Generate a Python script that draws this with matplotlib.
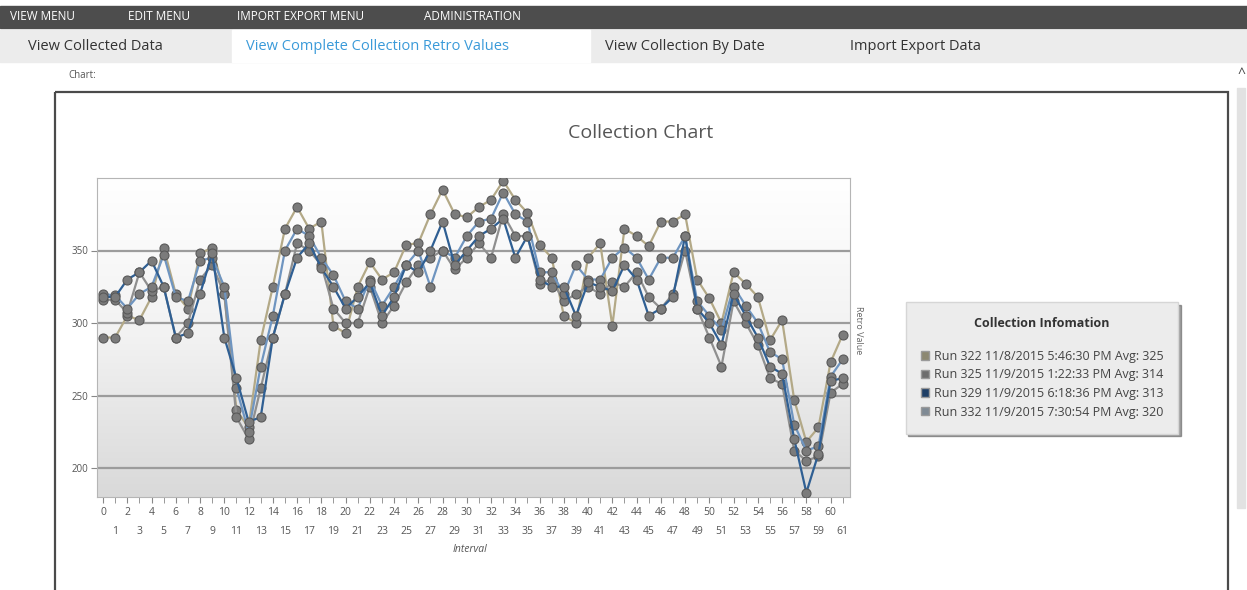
import numpy as np
import matplotlib.pyplot as plt
from matplotlib.patches import Rectangle, Patch
from matplotlib.colors import LinearSegmentedColormap

plt.rcParams['font.family'] = ['Open Sans', 'DejaVu Sans']

# values (approximate)
interval = list(range(62))
run_322 = [290, 290, 305, 302, 318, 352, 320, 310, 348, 352, 320, 240, 228, 288, 325, 365,
           380, 365, 370, 298, 293, 325, 342, 330, 335, 354, 355, 375, 392, 375, 373, 380,
           385, 398, 385, 376, 354, 345, 305, 300, 345, 355, 298, 365, 360, 353, 370, 370,
           375, 330, 317, 300, 335, 327, 318, 288, 302, 247, 218, 228, 273, 292]
run_325 = [316, 316, 307, 335, 322, 325, 290, 300, 330, 340, 320, 235, 220, 255, 290, 320,
           355, 350, 340, 310, 300, 300, 325, 300, 312, 328, 340, 345, 350, 337, 345, 355,
           345, 375, 360, 360, 327, 330, 315, 320, 325, 320, 328, 325, 335, 318, 310, 320,
           350, 310, 290, 270, 315, 300, 285, 262, 258, 212, 205, 208, 252, 258]
run_329 = [318, 318, 330, 335, 343, 325, 290, 293, 320, 348, 290, 262, 232, 235, 290, 320,
           345, 355, 338, 325, 310, 318, 328, 305, 318, 340, 335, 350, 370, 340, 350, 360,
           365, 372, 345, 360, 330, 325, 325, 305, 328, 325, 322, 340, 330, 305, 310, 318,
           360, 310, 300, 285, 320, 305, 290, 270, 265, 220, 183, 210, 260, 262]
run_332 = [320, 319, 310, 320, 325, 347, 318, 315, 343, 345, 325, 255, 225, 270, 305, 350,
           365, 360, 345, 333, 315, 310, 330, 312, 325, 340, 350, 325, 350, 345, 360, 370,
           372, 390, 375, 370, 335, 335, 320, 340, 330, 330, 345, 352, 345, 330, 345, 345,
           360, 315, 305, 295, 325, 312, 300, 280, 275, 230, 212, 215, 263, 275]
series_labels = ['Run 322 11/8/2015 5:46:30 PM Avg: 325',
                 'Run 325 11/9/2015 1:22:33 PM Avg: 314',
                 'Run 329 11/9/2015 6:18:36 PM Avg: 313',
                 'Run 332 11/9/2015 7:30:54 PM Avg: 320']
y_ticks = [200, 250, 300, 350]

line_colors = ['#b3a987', '#8f8f8f', '#2f5f93', '#6f95c0']
legend_colors = ['#8c8872', '#6e6e6e', '#1f3f66', '#7f8a94']

W, H = 1247, 590
fig = plt.figure(figsize=(W / 100, H / 100), dpi=100)

# page chrome drawn in pixel coords
bg = fig.add_axes([0, 0, 1, 1])
bg.set_xlim(0, W)
bg.set_ylim(H, 0)
bg.axis('off')
bg.add_patch(Rectangle((0, 6), W, 22, color='#4d4d4d'))
for x, t in zip([10, 128, 237, 424], ['VIEW MENU', 'EDIT MENU', 'IMPORT EXPORT MENU', 'ADMINISTRATION']):
    bg.text(x, 17, t, color='white', fontsize=8.5, va='center', ha='left')
bg.add_patch(Rectangle((0, 30), W, 32, color='#ececec'))
bg.add_patch(Rectangle((232, 30), 358, 32, color='white'))
tabs = [(28, 'View Collected Data', '#333333'),
        (246, 'View Complete Collection Retro Values', '#3a9ad9'),
        (605, 'View Collection By Date', '#333333'),
        (850, 'Import Export Data', '#333333')]
for x, t, c in tabs:
    bg.text(x, 47, t, color=c, fontsize=10.5, va='center', ha='left')
bg.text(68, 76, 'Chart:', color='#555555', fontsize=7, va='center')
bg.text(1241, 75, '^', color='#444444', fontsize=10, va='center', ha='center')
bg.add_patch(Rectangle((1237, 88), 8, 420, color='#e2e2e2'))
bg.add_patch(Rectangle((55, 92), 1173, 520, fill=False, edgecolor='#4a4a4a', lw=1.6))
bg.text(641, 133, 'Collection Chart', color='#555555', fontsize=14, ha='center', va='center')
bg.text(470, 550, 'Interval', color='#555555', fontsize=7.5, style='italic', ha='center', va='center')
bg.text(859, 330, 'Retro Value', color='#666666', fontsize=6.5, rotation=-90, ha='center', va='center')

# plot area
ax = fig.add_axes([97 / W, 1 - 497 / H, (850 - 97) / W, (497 - 178) / H])
cm = LinearSegmentedColormap.from_list('bgfade', ['#ffffff', '#f2f2f2', '#d9d9d9'])
grad = np.linspace(0, 1, 256).reshape(-1, 1)
ax.imshow(grad, extent=[0, 1, 0, 1], transform=ax.transAxes, aspect='auto', cmap=cm, zorder=0)

for vals, c in zip([run_322, run_325, run_332, run_329], [line_colors[0], line_colors[1], line_colors[3], line_colors[2]]):
    ax.plot(interval, vals, color=c, lw=1.6, marker='o', ms=6.5,
            markerfacecolor='#7b7b7b', markeredgecolor='#595959', markeredgewidth=0.8, zorder=3)

ax.set_xlim(-0.5, 61.6)
ax.set_ylim(180, 400)
ax.set_yticks(y_ticks)
ax.set_yticklabels([str(v) for v in y_ticks], fontsize=7, color='#555555')
ax.yaxis.grid(True, color='#9c9c9c', lw=1.6, zorder=1)
ax.set_axisbelow(True)

evens = interval[0::2]
odds = interval[1::2]
ax.set_xticks(evens)
ax.set_xticklabels([str(i) for i in evens], fontsize=7.5, color='#555555')
ax.set_xticks(odds, minor=True)
ax.set_xticklabels([str(i) for i in odds], minor=True, fontsize=7.5, color='#555555')
ax.tick_params(axis='x', which='major', length=4, color='#888888', pad=3)
ax.tick_params(axis='x', which='minor', length=4, color='#888888', pad=17)
ax.tick_params(axis='y', length=4, color='#888888', pad=2)
for s in ax.spines.values():
    s.set_color('#b5b5b5')

handles = [Patch(facecolor=c, edgecolor='#9a9a9a') for c in legend_colors]
leg = fig.legend(handles, series_labels, loc='center', bbox_to_anchor=(1042 / W, 1 - 368 / H),
                 fontsize=9, title='Collection Infomation', title_fontproperties={'weight': 'bold', 'size': 9},
                 frameon=True, fancybox=False, shadow=True, borderpad=1.2, labelspacing=0.45,
                 handlelength=0.65, handleheight=0.65, handletextpad=0.4)
leg.get_frame().set_facecolor('#ececec')
leg.get_frame().set_edgecolor('#d6d6d6')
for t in leg.get_texts():
    t.set_color('#444444')
leg.get_title().set_color('#333333')
leg._legend_box.sep = 14

fig.savefig('out.png', dpi=100)
